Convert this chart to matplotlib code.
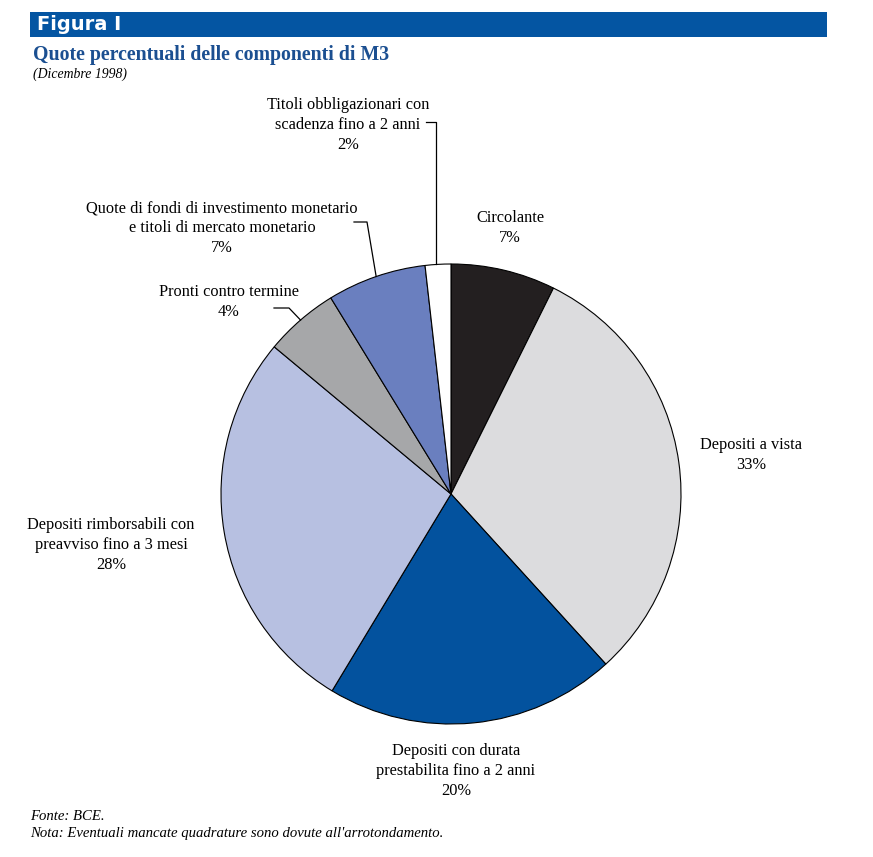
import numpy as np
from matplotlib import pyplot as plt
from matplotlib.patches import Rectangle

componenti = ["Circolante", "Depositi a vista",
              "Depositi con durata\nprestabilita fino a 2 anni",
              "Depositi rimborsabili con\npreavviso fino a 3 mesi",
              "Pronti contro termine",
              "Quote di fondi di investimento monetario\ne titoli di mercato monetario",
              "Titoli obbligazionari con\nscadenza fino a 2 anni"]
quote = [7.35, 30.9, 20.4, 27.4, 5.2, 6.95, 1.8]
etichette_pct = ["7%", "33%", "20%", "28%", "4%", "7%", "2%"]
colori = ["#231f20", "#dcdcde", "#03529e", "#b7c0e1", "#a6a7a9", "#6a7fbf", "#ffffff"]

W, H = 873, 857
BLU = "#0455a2"

fig = plt.figure(figsize=(W / 100, H / 100), dpi=100)
ax = fig.add_axes([0, 0, 1, 1])

def yp(y):
	# da pixel (dall'alto) a coordinate dati
	return H - y

cx, cy, r = 451, yp(494), 230
wedges, _ = ax.pie(quote, colors=colori, startangle=90, counterclock=False,
                   center=(cx, cy), radius=r, frame=True,
                   wedgeprops=dict(edgecolor="black", linewidth=0.8))
ax.set_xlim(0, W)
ax.set_ylim(0, H)
ax.set_aspect("auto")
ax.axis("off")

serif = "Liberation Serif"

# intestazione
ax.add_patch(Rectangle((30, yp(37)), 797, 25, color=BLU, lw=0))
ax.text(37, yp(24.5), "Figura I", color="white", fontsize=14, fontweight="bold",
        family="DejaVu Sans", va="center", ha="left")
ax.text(33, yp(55), "Quote percentuali delle componenti di M3", color="#1b4f91",
        fontsize=14.3, fontweight="bold", family=serif, va="center", ha="left")
ax.text(33, yp(74), "(Dicembre 1998)", fontsize=9.9, style="italic", family=serif,
        va="center", ha="left")

# etichette: posizione del centro testo (pixel)
pos_testo = [(510, 228), (751, 455), (456, 771), (111, 545), (229, 302), (222, 228), (348, 125)]
for nome, pct, (x, y) in zip(componenti, etichette_pct, pos_testo):
	ax.text(x, yp(y), nome + "\n" + pct, fontsize=11.8, family=serif, ha="center",
	        va="center", linespacing=1.32)

# linee di richiamo: dal bordo dello spicchio al testo (None = stessa x del bordo)
gomiti = {6: [(None, 122), (426, 122)],
          5: [(367, 222), (354, 222)],
          4: [(289, 308), (274, 308)]}
for i, punti in gomiti.items():
	w = wedges[i]
	ang = np.deg2rad((w.theta1 + w.theta2) / 2)
	x0, y0 = cx + r * np.cos(ang), cy + r * np.sin(ang)
	if i == 6:
		x0 = x0 - 2
	xs = [x0] + [x0 if p[0] is None else p[0] for p in punti]
	ys = [y0] + [yp(p[1]) for p in punti]
	ax.plot(xs, ys, color="black", lw=0.9)

# note
ax.text(30, yp(816), "Fonte: BCE.", fontsize=10.6, style="italic", family=serif, va="center")
ax.text(30, yp(834), "Nota: Eventuali mancate quadrature sono dovute all'arrotondamento.",
        fontsize=10.6, style="italic", family=serif, va="center")

plt.savefig("out.png", dpi=100)
